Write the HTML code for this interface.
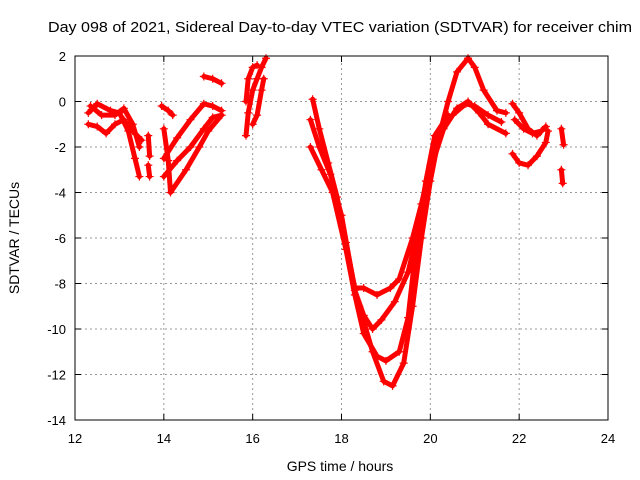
<!DOCTYPE html>
<html><head><meta charset="utf-8"><style>
body{margin:0;background:#fff}
svg{display:block;font-family:"Liberation Sans",sans-serif}
</style></head><body>
<svg id="c" width="640" height="480">
<text x="48" y="32" font-size="15" textLength="584" lengthAdjust="spacingAndGlyphs">Day 098 of 2021, Sidereal Day-to-day VTEC variation (SDTVAR) for receiver chim</text>
<text x="340" y="471" text-anchor="middle" font-size="14">GPS time / hours</text>
<text transform="translate(19,238) rotate(-90)" text-anchor="middle" font-size="14">SDTVAR / TECUs</text>
<g id="grid"></g><g id="marks"></g>
<rect x="75" y="56" width="533" height="364" fill="none" stroke="#000" stroke-width="1"/>
</svg>
<script>
const xTicks=[12,14,16,18,20,22,24];
const yTicks=[2,0,-2,-4,-6,-8,-10,-12,-14];
const track1=[[12.3,-0.5],[12.5,-0.1],[12.8,-0.4],[13.0,-0.5],[13.2,-1.3],[13.35,-2.5],[13.45,-3.3]];
const track2=[[12.3,-1.0],[12.5,-1.1],[12.7,-1.4],[12.9,-1.0],[13.1,-0.8],[13.3,-1.3],[13.5,-1.7]];
const track3=[[12.35,-0.2],[12.6,-0.6],[12.9,-0.6],[13.1,-0.3],[13.3,-1.0],[13.45,-2.0]];
const track4=[[13.65,-1.5],[13.68,-2.4]];
const track5=[[13.65,-2.8],[13.68,-3.3]];
const track6=[[14.0,-1.2],[14.1,-2.6],[14.15,-4.0],[14.5,-3.0],[14.8,-2.0],[15.0,-1.3],[15.3,-0.6]];
const track7=[[13.95,-0.2],[14.1,-0.4],[14.2,-0.6]];
const track8=[[14.0,-2.5],[14.3,-1.6],[14.6,-0.8],[14.9,-0.1],[15.1,-0.2],[15.3,-0.4]];
const track9=[[14.0,-3.3],[14.3,-2.6],[14.6,-2.0],[14.9,-1.2],[15.1,-0.7],[15.3,-0.6]];
const track10=[[14.9,1.1],[15.1,1.0],[15.3,0.8]];
const track11=[[15.85,-1.5],[15.9,-0.5],[16.0,0.5],[16.1,1.0],[16.2,1.5],[16.3,1.9]];
const track12=[[16.0,-1.0],[16.1,-0.6],[16.2,0.5],[16.25,1.0]];
const track13=[[15.85,0.0],[15.9,1.0],[16.0,1.5],[16.1,1.6]];
const track14=[[17.35,0.1],[17.5,-1.2],[17.7,-2.7],[17.9,-4.2],[18.1,-6.2],[18.3,-8.2],[18.5,-8.2],[18.8,-8.5],[19.1,-8.2],[19.3,-7.8],[19.6,-6.0],[19.8,-4.5],[20.0,-2.8],[20.2,-1.5],[20.5,-0.6],[20.8,-0.1],[21.0,-0.2],[21.3,-0.6],[21.6,-0.9]];
const track15=[[17.3,-0.8],[17.5,-2.0],[17.75,-3.2],[18.0,-5.0],[18.3,-8.3],[18.5,-9.4],[18.7,-10.0],[18.9,-9.6],[19.2,-8.8],[19.5,-7.5],[19.8,-5.0],[20.0,-3.0],[20.3,-1.2],[20.6,-0.3],[20.85,0.0],[21.1,-0.5],[21.3,-1.0],[21.7,-1.4]];
const track16=[[17.3,-2.0],[17.55,-3.0],[17.8,-4.0],[18.1,-6.5],[18.3,-8.5],[18.5,-10.2],[18.8,-11.2],[19.0,-11.4],[19.3,-11.0],[19.5,-9.5],[19.7,-6.0],[19.9,-3.5],[20.1,-1.5],[20.4,-0.6]];
const track17=[[18.4,-9.0],[18.7,-11.0],[18.95,-12.3],[19.15,-12.5],[19.4,-11.5],[19.6,-9.0],[19.8,-6.0],[20.0,-3.5],[20.2,-1.5],[20.4,0.0],[20.6,1.3],[20.85,1.9],[21.0,1.5],[21.2,0.5],[21.5,-0.4],[21.7,-0.5]];
const track18=[[21.85,-0.1],[22.0,-0.5],[22.2,-1.2],[22.4,-1.5],[22.6,-1.1]];
const track19=[[21.9,-0.8],[22.1,-1.2],[22.3,-1.4],[22.5,-1.3]];
const track20=[[21.85,-2.3],[22.0,-2.7],[22.2,-2.8],[22.4,-2.4],[22.6,-1.8],[22.65,-1.3]];
const track21=[[22.95,-1.2],[23.0,-1.9]];
const track22=[[22.95,-3.0],[22.98,-3.6]];
const tracks=[track1,track2,track3,track4,track5,track6,track7,track8,track9,track10,track11,track12,track13,track14,track15,track16,track17,track18,track19,track20,track21,track22];

const NS="http://www.w3.org/2000/svg";
const X0=75,X1=608,Y0=420,Y1=56;
const xs=v=>X0+(v-12)/(24-12)*(X1-X0);
const ys=v=>Y0-(v+14)/(2+14)*(Y0-Y1);
const grid=document.getElementById('grid'),marks=document.getElementById('marks');
function mk(t,a,p){const e=document.createElementNS(NS,t);for(const k in a)e.setAttribute(k,a[k]);p.appendChild(e);return e;}
xTicks.forEach(t=>{const x=xs(t);
 if(t>12&&t<24){const l=mk('line',{x1:x,y1:Y0,x2:x,y2:Y1,stroke:'#999','stroke-dasharray':'2,3'},grid);
 
 }
 mk('line',{x1:x,y1:Y0,x2:x,y2:Y0-6,stroke:'#000'},grid);mk('line',{x1:x,y1:Y1,x2:x,y2:Y1+6,stroke:'#000'},grid);
 const tx=mk('text',{x:x,y:Y0+23,'text-anchor':'middle','font-size':'13'},grid);tx.textContent=t;
 
 });
yTicks.forEach(t=>{const y=ys(t);
 if(t>-14&&t<2){const l=mk('line',{x1:X0,y1:y,x2:X1,y2:y,stroke:'#999','stroke-dasharray':'2,3'},grid);
 
 }
 mk('line',{x1:X0,y1:y,x2:X0+6,y2:y,stroke:'#000'},grid);mk('line',{x1:X1,y1:y,x2:X1-6,y2:y,stroke:'#000'},grid);
 const tx=mk('text',{x:X0-9,y:y+5,'text-anchor':'end','font-size':'13'},grid);tx.textContent=t;
 
 });
tracks.forEach((tr,i)=>{
 const g=mk('g',{},marks);
 
 
 mk('polyline',{points:tr.map(p=>xs(p[0])+','+ys(p[1])).join(' '),fill:'none',stroke:'#f00','stroke-width':'5','stroke-linejoin':'round','stroke-linecap':'round'},g);
 tr.forEach(p=>{const x=xs(p[0]),y=ys(p[1]);
  mk('path',{d:`M${x-4},${y}h8M${x},${y-4}v8`,stroke:'#f00','stroke-width':'1.2'},g);});
});
</script>
</body></html>
